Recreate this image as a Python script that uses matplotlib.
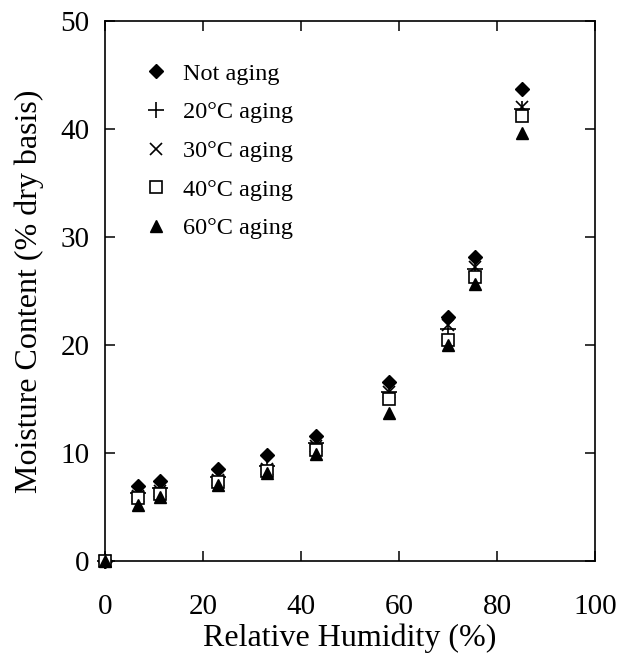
import matplotlib
matplotlib.use("Agg")
import matplotlib.pyplot as plt

rh = [0, 6.7, 11.3, 23, 33, 43, 58, 70, 75.5, 85]
not_aging = [0, 6.9, 7.4, 8.5, 9.8, 11.6, 16.6, 22.6, 28.1, 43.7]
aging_20 = [0, 6.3, 6.8, 7.8, 8.8, 10.9, 15.6, 21.5, 27.0, 41.8]
aging_30 = [0, 6.0, 6.5, 7.5, 8.5, 10.6, 15.6, 21.8, 27.2, 42.0]
aging_40 = [0, 5.8, 6.2, 7.3, 8.3, 10.3, 15.0, 20.5, 26.3, 41.2]
aging_60 = [0, 5.2, 5.9, 7.0, 8.1, 9.9, 13.7, 20.0, 25.6, 39.6]
labels = ["Not aging", "20°C aging", "30°C aging", "40°C aging", "60°C aging"]
xticks = [0, 20, 40, 60, 80, 100]
yticks = [0, 10, 20, 30, 40, 50]

plt.rcParams['font.family'] = ['Liberation Serif', 'DejaVu Serif']

fig = plt.figure(figsize=(6.33, 6.62), dpi=100)
ax = fig.add_axes([0.166, 0.1526, 0.774, 0.816])

common = dict(linestyle='none', color='black', clip_on=False, zorder=3)
ax.plot(rh, not_aging, marker='D', markersize=7.5, label=labels[0], **common)
ax.plot(rh, aging_20, marker='+', markersize=11, markeredgewidth=1.2, label=labels[1], **common)
ax.plot(rh, aging_30, marker='x', markersize=9, markeredgewidth=1.2, label=labels[2], **common)
ax.plot(rh, aging_40, marker='s', markersize=8, markerfacecolor='white', markeredgewidth=1.2, label=labels[3], **common)
ax.plot(rh, aging_60, marker='^', markersize=9, label=labels[4], **common)

ax.set_xlim(0, 100)
ax.set_ylim(0, 50)
ax.set_xticks(xticks)
ax.set_yticks(yticks)
ax.tick_params(direction='in', length=7, width=1.1, top=True, right=True, labelsize=21)
ax.tick_params(axis='x', pad=24)
ax.tick_params(axis='y', pad=11)
for sp in ax.spines.values():
    sp.set_linewidth(1.2)

ax.set_xlabel("Relative Humidity (%)", fontsize=23, labelpad=2)
ax.set_ylabel("Moisture Content (% dry basis)", fontsize=23, labelpad=12)

ax.legend(loc='upper left', bbox_to_anchor=(0.06, 0.94), frameon=False, fontsize=17.5,
          handlelength=1.0, handletextpad=0.6, labelspacing=0.68, borderaxespad=0)

fig.savefig("out.png", dpi=100)
